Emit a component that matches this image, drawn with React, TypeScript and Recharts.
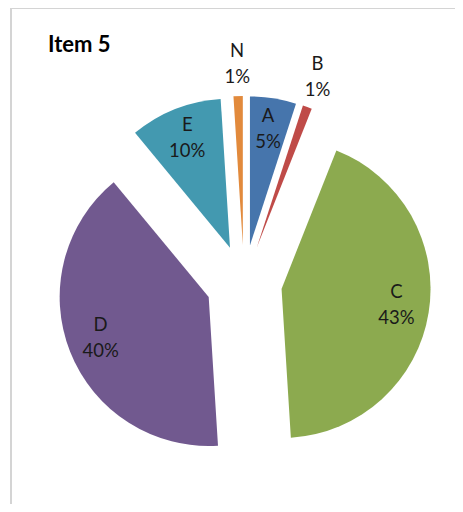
import { PieChart, Pie, Cell, Sector } from "recharts";

const names = ["A", "B", "C", "D", "E", "N"];
const values = [5, 1, 43, 40, 10, 1];
const colors = ["#4675ac", "#bf4b48", "#8caa4f", "#71598f", "#4399b0", "#e28a3c"];

const data = names.map((name, i) => ({ name, value: values[i] }));

const EXPLODE = 38;
const RAD = Math.PI / 180;

// every slice pulled out from the centre along its mid angle
// eslint-disable-next-line @typescript-eslint/no-explicit-any
const ExplodedSector = (props: any) => {
  const { cx, cy, midAngle } = props;
  const dx = EXPLODE * Math.cos(-midAngle * RAD);
  const dy = EXPLODE * Math.sin(-midAngle * RAD);
  return <Sector {...props} cx={cx + dx} cy={cy + dy} stroke="none" />;
};

// eslint-disable-next-line @typescript-eslint/no-explicit-any
const renderLabel = (props: any) => {
  const { cx, cy, midAngle, outerRadius, percent, name } = props;
  const dist = percent < 0.02 ? EXPLODE + outerRadius + 30 : EXPLODE + outerRadius * 0.78;
  const x = cx + dist * Math.cos(-midAngle * RAD);
  const y = cy + dist * Math.sin(-midAngle * RAD);
  return (
    <text x={x} y={y} textAnchor="middle" fill="#1a1a1a" fontSize={18.5} fontFamily="Lato, 'Open Sans', sans-serif">
      <tspan x={x} dy={-9}>{name}</tspan>
      <tspan x={x} dy={26}>{Math.round(percent * 100)}%</tspan>
    </text>
  );
};

export default function App() {
  return (
    <div style={{ position: "relative", width: 463, height: 512, margin: -8, overflow: "hidden", background: "#fff" }}>
      <div
        style={{
          position: "absolute", left: 10, top: 7, width: 470, height: 520,
          borderLeft: "2px solid #d4d4d4", borderTop: "2px solid #d4d4d4",
        }}
      />
      <div
        style={{
          position: "absolute", left: 48, top: 30, fontFamily: "Lato, 'Open Sans', sans-serif",
          fontWeight: 700, fontSize: 22, color: "#000",
        }}
      >
        Item 5
      </div>
      <div style={{ position: "absolute", left: 0, top: 0 }}>
        <PieChart width={463} height={512}>
          <Pie
            data={data}
            dataKey="value"
            nameKey="name"
            cx={239}
            cy={278}
            outerRadius={149}
            startAngle={90}
            endAngle={-270}
            stroke="none"
            shape={ExplodedSector}
            activeShape={ExplodedSector}
            inactiveShape={ExplodedSector}
            label={renderLabel}
            labelLine={false}
            isAnimationActive={false}
          >
            {data.map((d, i) => (
              <Cell key={d.name} fill={colors[i]} />
            ))}
          </Pie>
        </PieChart>
      </div>
    </div>
  );
}
